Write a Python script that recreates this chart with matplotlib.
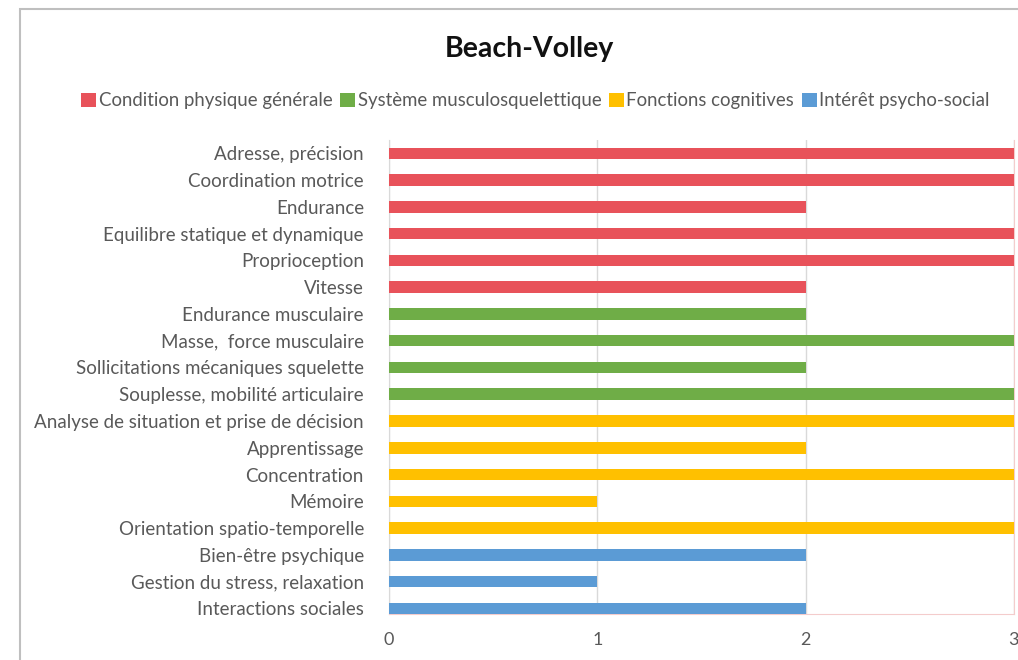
import matplotlib.pyplot as plt
from matplotlib.patches import Patch, Rectangle

categories = [
    "Adresse, précision",
    "Coordination motrice",
    "Endurance",
    "Equilibre statique et dynamique",
    "Proprioception",
    "Vitesse",
    "Endurance musculaire",
    "Masse,  force musculaire",
    "Sollicitations mécaniques squelette",
    "Souplesse, mobilité articulaire",
    "Analyse de situation et prise de décision",
    "Apprentissage",
    "Concentration",
    "Mémoire",
    "Orientation spatio-temporelle",
    "Bien-être psychique",
    "Gestion du stress, relaxation",
    "Interactions sociales",
]
values = [3, 3, 2, 3, 3, 2, 2, 3, 2, 3, 3, 2, 3, 1, 3, 2, 1, 2]
groups = [0] * 6 + [1] * 4 + [2] * 5 + [3] * 3
group_names = [
    "Condition physique générale",
    "Système musculosquelettique",
    "Fonctions cognitives",
    "Intérêt psycho-social",
]
group_colors = ["#E8525A", "#6FAD47", "#FFC000", "#5B9BD5"]

plt.rcParams['font.family'] = ['Lato', 'DejaVu Sans']
txt = "#595959"

fig = plt.figure(figsize=(10.18, 6.6), dpi=100)
ax = fig.add_axes([0.3821, 0.0697, 0.6139, 0.7183])

n = len(categories)
ypos = [n - 1 - i for i in range(n)]
colors = [group_colors[g] for g in groups]
ax.barh(ypos, values, height=0.43, color=colors, zorder=3)

ax.set_xlim(0, 3)
ax.set_ylim(-0.21, n - 0.5)
ax.set_yticks(ypos)
ax.set_yticklabels(categories, fontsize=13.5, color=txt)
ax.set_xticks([0, 1, 2, 3])
ax.set_xticklabels(["0", "1", "2", "3"], fontsize=13, color=txt)
ax.tick_params(axis='both', length=0)
ax.tick_params(axis='x', pad=13)
ax.tick_params(axis='y', pad=18)
ax.grid(axis='x', color="#D9D9D9", lw=1, zorder=0)
ax.spines['top'].set_visible(False)
ax.spines['left'].set_color("#D9D9D9")
ax.spines['right'].set_color("#F4CCCC")
ax.spines['bottom'].set_color("#F4CCCC")

fig.text(0.52, 0.925, "Beach-Volley", ha='center', va='center',
         fontsize=20.5, fontweight='bold', color="#111111")

handles = [Patch(facecolor=c, edgecolor='none') for c in group_colors]
fig.legend(handles, group_names, loc='center', bbox_to_anchor=(0.526, 0.847),
           ncol=4, frameon=False, fontsize=13.4, handlelength=0.8,
           handleheight=0.8, handletextpad=0.15, columnspacing=0.4,
           labelcolor=txt)

# outer frame of the chart area
fig.patches.append(Rectangle((20 / 1018, -0.1), 1.2, 1 - 9 / 660 + 0.1,
                             transform=fig.transFigure, fill=False,
                             edgecolor="#BFBFBF", lw=1.5))

fig.savefig("out.png", dpi=100)
